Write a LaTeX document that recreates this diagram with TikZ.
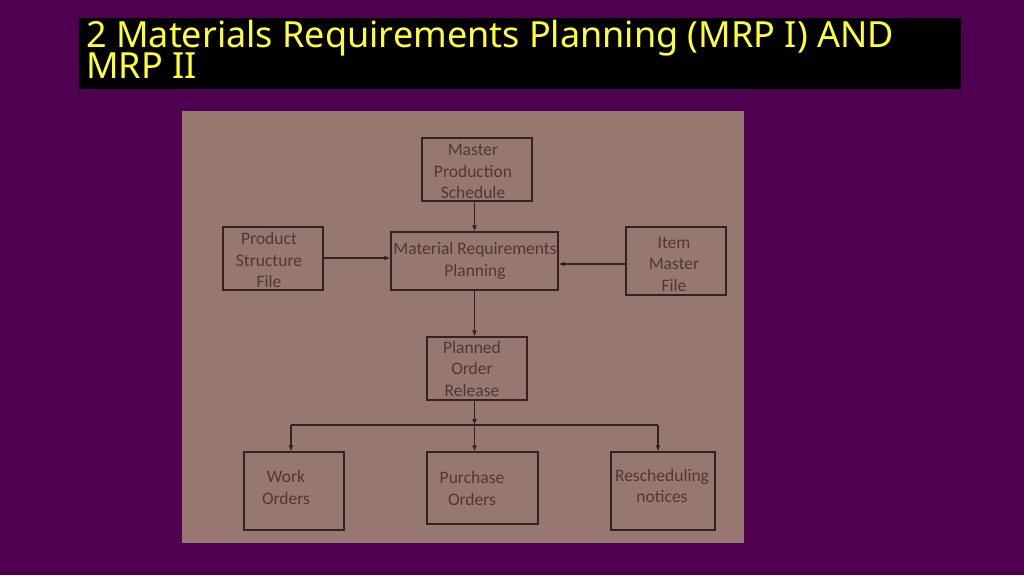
\documentclass[tikz,border=0pt]{standalone}
\usepackage{fontspec}
\setmainfont{Carlito}
\newfontfamily\titlefont{Noto Sans}
\usetikzlibrary{arrows.meta}
\definecolor{bgpurple}{RGB}{80,0,80}
\definecolor{panel}{RGB}{151,120,112}
\definecolor{boxline}{RGB}{52,34,30}
\definecolor{boxtext}{RGB}{80,56,50}
\definecolor{titleyellow}{RGB}{255,255,51}
\tikzset{
  flowbox/.style={draw=boxline, line width=1.2pt, rectangle, inner sep=0pt},
  boxlabel/.style={inner sep=0pt, align=center, text=boxtext,
    font=\fontsize{17.5}{21.5}\selectfont},
  titleline/.style={anchor=base west, inner sep=0pt, text=titleyellow,
    font=\titlefont\fontsize{36}{31}\selectfont},
  conn/.style={draw=boxline, line width=1.2pt, -{Latex[length=6pt,width=5pt]}},
  plainconn/.style={draw=boxline, line width=1.2pt}
}
\begin{document}
\begin{tikzpicture}[x=1pt,y=-1pt]
\useasboundingbox (0,0) rectangle (1024,575);
\fill[bgpurple] (0,0) rectangle (1024,575);
\fill[black] (79,18) rectangle (961,89);
\node[titleline] (title1) at (86,48) {2 Materials Requirements Planning (MRP I) AND};
\node[titleline] (title2) at (86,79) {MRP II};
\fill[panel] (182,111) rectangle (744,543);

\node[flowbox, minimum width=110pt, minimum height=63pt] (mps) at (477,169.5) {};
\node[flowbox, minimum width=167pt, minimum height=58pt] (mrp) at (474.5,261) {};
\node[flowbox, minimum width=100pt, minimum height=63pt] (psf) at (273,258.5) {};
\node[flowbox, minimum width=100pt, minimum height=68pt] (imf) at (676,261) {};
\node[flowbox, minimum width=100pt, minimum height=63pt] (por) at (477,368.5) {};
\node[flowbox, minimum width=100pt, minimum height=78pt] (wo) at (294,491) {};
\node[flowbox, minimum width=111pt, minimum height=72pt] (po) at (482.5,488) {};
\node[flowbox, minimum width=104pt, minimum height=78pt] (rn) at (663,491) {};

\node[boxlabel] (mpsT) at (473,171.5) {Master\\Production\\Schedule};
\node[boxlabel] (mrpT) at (475,261) {Material Requirements\\Planning};
\node[boxlabel] (psfT) at (269,260) {Product\\Structure\\File};
\node[boxlabel] (imfT) at (674,264) {Item\\Master\\File};
\node[boxlabel] (porT) at (472,368.5) {Planned\\Order\\Release};
\node[boxlabel] (woT) at (286,487.5) {Work\\Orders};
\node[boxlabel] (poT) at (472,488.5) {Purchase\\Orders};
\node[boxlabel] (rnT) at (662,486) {Rescheduling\\notices};

\coordinate (busm) at (474.5,425);
\coordinate (busl) at (291,425);
\coordinate (busr) at (658,425);

\draw[conn] (mps.south -| busm) -- (mrp.north -| busm);
\draw[conn] (psf.east |- 0,258) -- (mrp.west |- 0,258);
\draw[conn] (imf.west |- 0,264) -- (mrp.east |- 0,264);
\draw[conn] (mrp.south -| busm) -- (por.north -| busm);
\draw[conn] (por.south -| busm) -- (busm);
\draw[plainconn] (busl) -- (busr);
\draw[conn] (busl) -- (wo.north -| busl);
\draw[conn] (busm) -- (po.north -| busm);
\draw[conn] (busr) -- (rn.north -| busr);
\end{tikzpicture}
\end{document}
